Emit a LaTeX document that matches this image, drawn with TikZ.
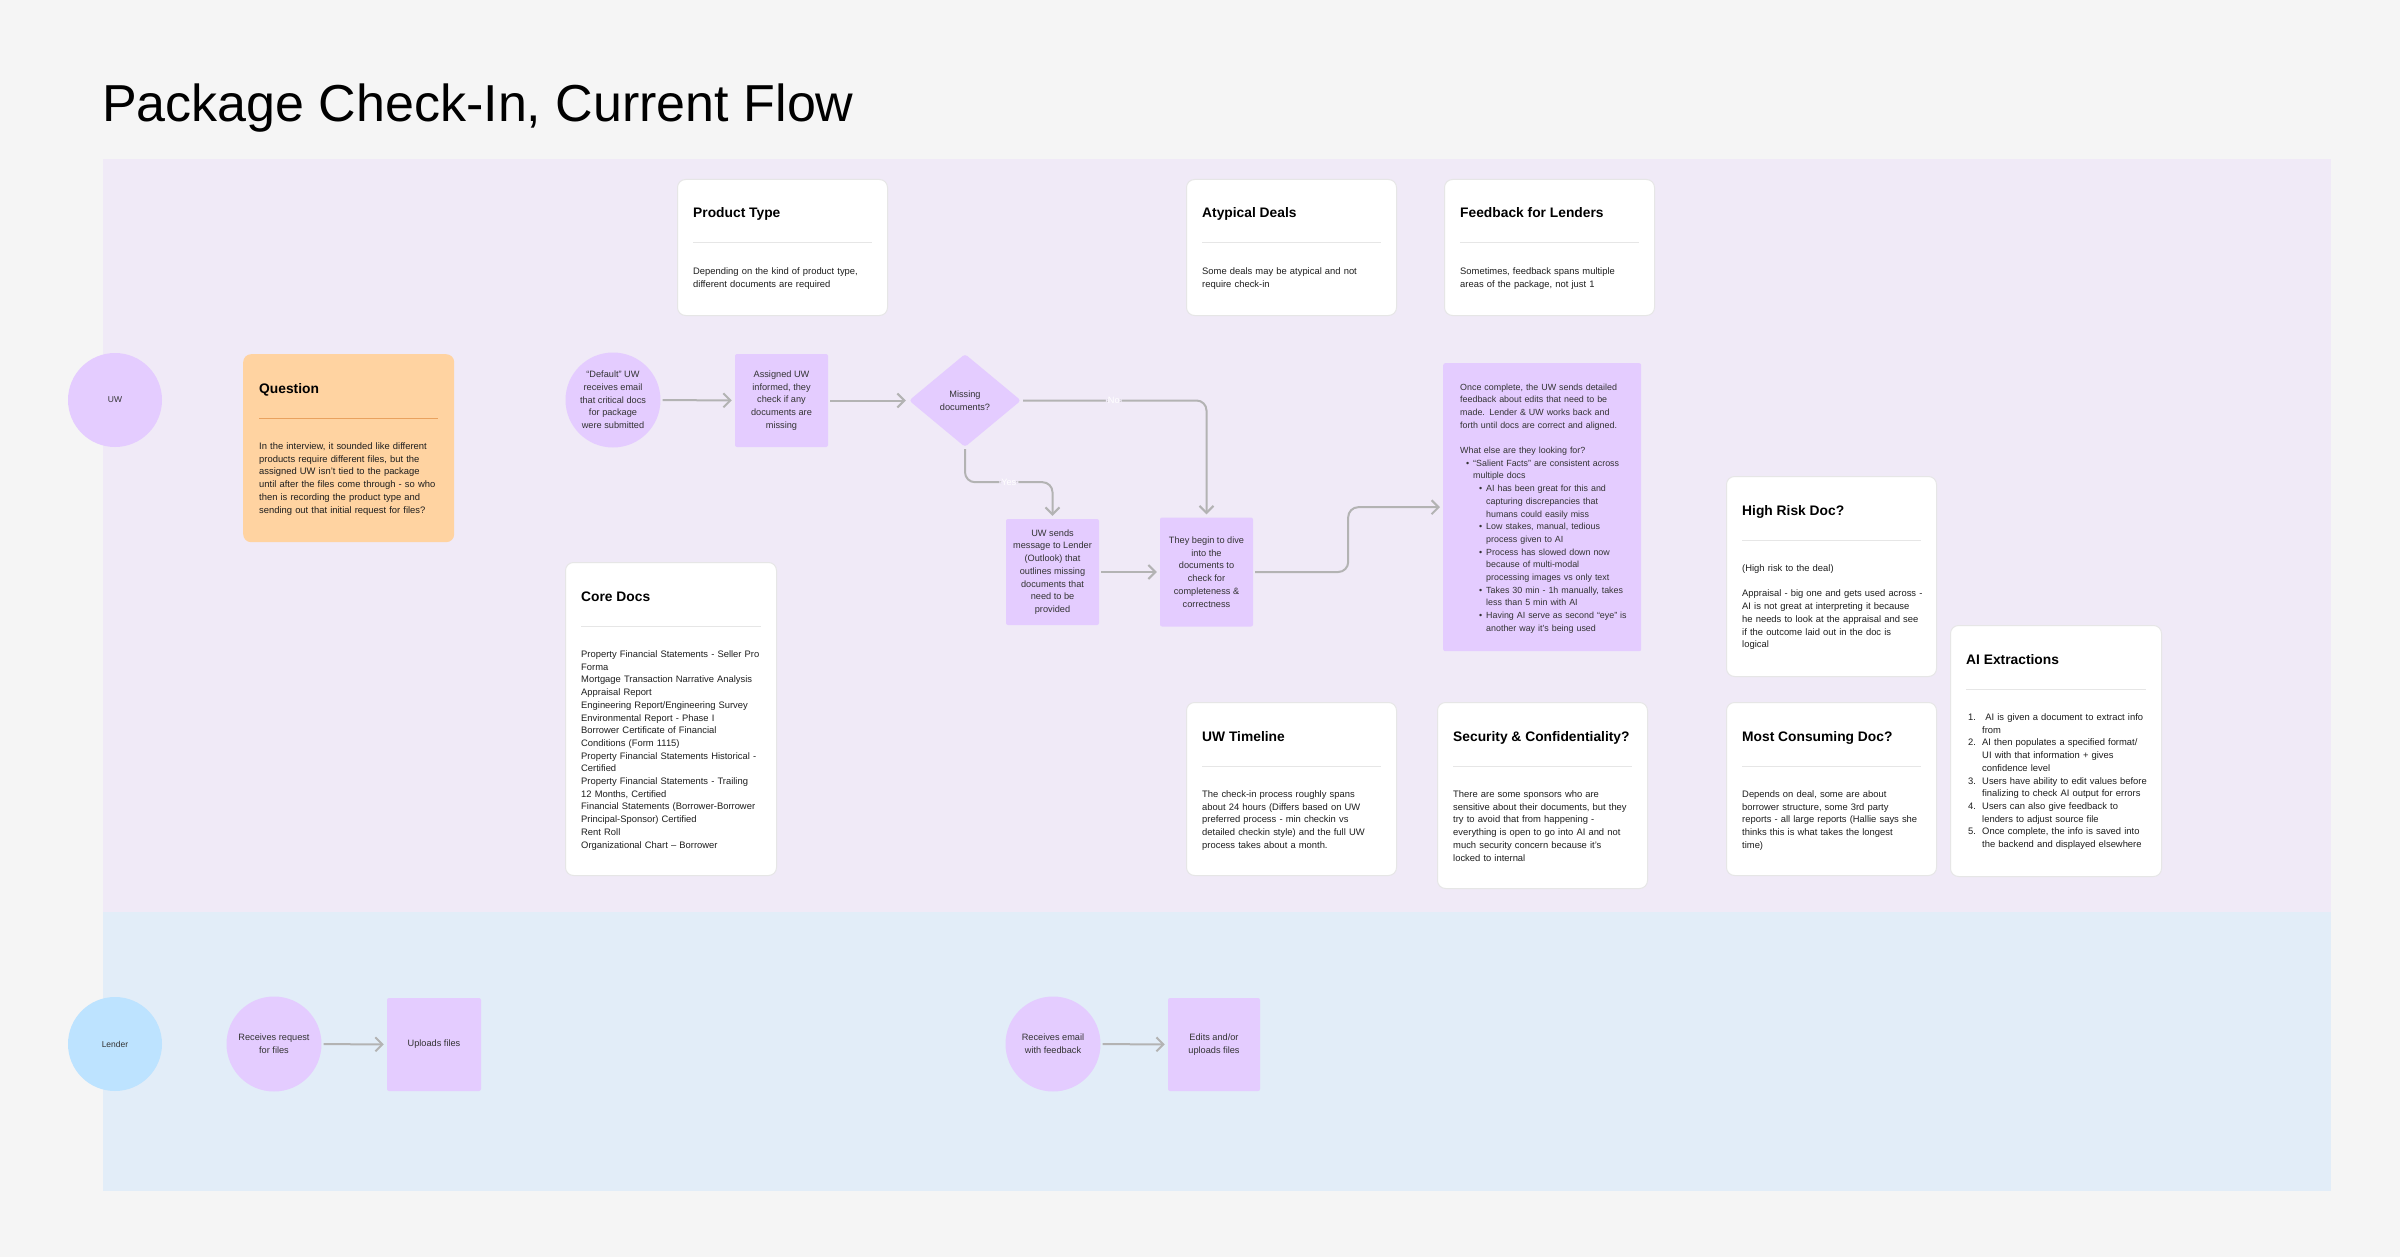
\documentclass[tikz,border=0pt]{standalone}
\usepackage{fontspec}
\setmainfont{Liberation Sans}
\usetikzlibrary{arrows.meta, positioning, shapes.geometric, calc}

\definecolor{pagebg}{HTML}{F5F5F5}
\definecolor{uwlane}{HTML}{F0EAF7}
\definecolor{lenderlane}{HTML}{E2EDF8}
\definecolor{sticky}{HTML}{E4CCFF}
\definecolor{lenderblue}{HTML}{BDE3FF}
\definecolor{peach}{HTML}{FFD3A1}
\definecolor{peachline}{HTML}{E9A25F}
\definecolor{cardline}{HTML}{E6E6E6}
\definecolor{flowgray}{HTML}{B3B3B3}
\definecolor{inktext}{HTML}{1E1E1E}
\definecolor{stickytext}{HTML}{333333}

% card: style, name, x, y, width, height, title, body
\newcommand{\infocard}[8]{%
  \node[#1, minimum width=#5pt, minimum height=#6pt] (#2) at (#3,#4) {};
  \node[cardtitle] (#2-title) at ($(#2.north west)+(16,39)$) {#7};
  \draw[#1 rule] ($(#2.north west)+(16,64)$) -- ($(#2.north east)+(-16,64)$);
  \node[cardbody] (#2-body) at ($(#2.north west)+(16,95.5)$) {#8};
}
\newcommand{\itemone}{\hspace*{6pt}\makebox[7pt][l]{\textbullet}}
\newcommand{\hangone}{\hspace*{13pt}}
\newcommand{\itemtwo}{\hspace*{19pt}\makebox[7pt][l]{\textbullet}}
\newcommand{\hangtwo}{\hspace*{26pt}}
\newcommand{\stepno}[1]{\hspace*{2pt}\makebox[14pt][l]{#1}}
\newcommand{\hangno}{\hspace*{16pt}}

\begin{document}
\begin{tikzpicture}[
    x=1pt, y=-1pt,
    pagetitle/.style={anchor=base west, inner sep=0, text=black,
                      font=\fontsize{52}{60}\selectfont},
    card/.style={rectangle, rounded corners=8pt, draw=cardline, fill=white,
                 line width=1pt, anchor=north west, inner sep=0},
    card rule/.style={draw=cardline, line width=1pt},
    qcard/.style={rectangle, rounded corners=8pt, fill=peach,
                  anchor=north west, inner sep=0},
    qcard rule/.style={draw=peachline, line width=1pt},
    cardtitle/.style={anchor=base west, inner sep=0, text=black,
                      font=\fontsize{13.8}{16}\selectfont\bfseries},
    cardbody/.style={anchor=base west, inner sep=0, text width=200pt, align=left,
                     text=inktext, font=\fontsize{9.4}{12.7}\selectfont},
    lanecircle/.style={circle, minimum size=94pt, inner sep=0, text=stickytext,
                       font=\fontsize{8.5}{11}\selectfont},
    flowcircle/.style={circle, fill=sticky, minimum size=95pt, inner sep=0,
                       align=center, text=stickytext, font=\fontsize{9.2}{12.7}\selectfont},
    flowbox/.style={rectangle, fill=sticky, rounded corners=2pt, inner sep=0,
                    align=center, text=stickytext, font=\fontsize{9.2}{12.7}\selectfont},
    flowdiamond/.style={diamond, fill=sticky, rounded corners=3pt, minimum width=112pt,
                        minimum height=93pt, inner sep=0, align=center, text=stickytext,
                        font=\fontsize{9.2}{12.7}\selectfont},
    notebox/.style={rectangle, fill=sticky, rounded corners=2pt, anchor=north west,
                    inner sep=0, minimum width=198pt, minimum height=288pt},
    notetext/.style={anchor=base west, inner sep=0, text width=176pt, align=left,
                     text=stickytext, font=\fontsize{8.9}{12.7}\selectfont},
    flow/.style={draw=flowgray, line width=2pt, -{Straight Barb[length=7pt, width=14pt]},
                 shorten >=3pt, shorten <=2pt},
    flowlabel/.style={fill=uwlane, text=white, inner sep=2pt,
                      font=\fontsize{9.2}{11}\selectfont}
  ]

  % page and lanes
  \useasboundingbox (0,0) rectangle (2400,1257);
  \fill[pagebg] (0,0) rectangle (2400,1257);
  \fill[uwlane] (102.5,159) rectangle (2331,912);
  \fill[lenderlane] (102.5,912) rectangle (2331,1191);

  \node[pagetitle] (title) at (102,122) {Package Check-In, Current Flow};

  \node[lanecircle, fill=sticky] (uw) at (115,400) {UW};
  \node[lanecircle, fill=lenderblue] (lender) at (115,1044) {Lender};

  % notes
  \infocard{qcard}{question}{243}{354}{211}{188}{Question}{In the interview, it sounded like different\\
    products require different files, but the\\
    assigned UW isn't tied to the package\\
    until after the files come through - so who\\
    then is recording the product type and\\
    sending out that initial request for files?}
  \infocard{card}{product}{677}{179}{210}{136}{Product Type}{Depending on the kind of product type,\\
    different documents are required}
  \infocard{card}{atypical}{1186}{179}{210}{136}{Atypical Deals}{Some deals may be atypical and not\\
    require check-in}
  \infocard{card}{feedback}{1444}{179}{210}{136}{Feedback for Lenders}{Sometimes, feedback spans multiple\\
    areas of the package, not just 1}
  \infocard{card}{coredocs}{565}{562}{211}{313}{Core Docs}{Property Financial Statements - Seller Pro\\
    Forma\\
    Mortgage Transaction Narrative Analysis\\
    Appraisal Report\\
    Engineering Report/Engineering Survey\\
    Environmental Report - Phase I\\
    Borrower Certificate of Financial\\
    Conditions (Form 1115)\\
    Property Financial Statements Historical -\\
    Certified\\
    Property Financial Statements - Trailing\\
    12 Months, Certified\\
    Financial Statements (Borrower-Borrower\\
    Principal-Sponsor) Certified\\
    Rent Roll\\
    Organizational Chart -- Borrower}
  \infocard{card}{timeline}{1186}{702}{210}{173}{UW Timeline}{The check-in process roughly spans\\
    about 24 hours (Differs based on UW\\
    preferred process - min checkin vs\\
    detailed checkin style) and the full UW\\
    process takes about a month.}
  \infocard{card}{security}{1437}{702}{210}{186}{Security \& Confidentiality?}{There are some sponsors who are\\
    sensitive about their documents, but they\\
    try to avoid that from happening -\\
    everything is open to go into AI and not\\
    much security concern because it's\\
    locked to internal}
  \infocard{card}{highrisk}{1726}{476}{210}{200}{High Risk Doc?}{(High risk to the deal)\\[12.7pt]
    Appraisal - big one and gets used across -\\
    AI is not great at interpreting it because\\
    he needs to look at the appraisal and see\\
    if the outcome laid out in the doc is\\
    logical}
  \infocard{card}{consuming}{1726}{702}{210}{173}{Most Consuming Doc?}{Depends on deal, some are about\\
    borrower structure, some 3rd party\\
    reports - all large reports (Hallie says she\\
    thinks this is what takes the longest\\
    time)}
  \infocard{card}{extract}{1950}{625}{211}{251}{AI Extractions}{\stepno{1.}\ AI is given a document to extract info\\
    \hangno from\\
    \stepno{2.}AI then populates a specified format/\\
    \hangno UI with that information + gives\\
    \hangno confidence level\\
    \stepno{3.}Users have ability to edit values before\\
    \hangno finalizing to check AI output for errors\\
    \stepno{4.}Users can also give feedback to\\
    \hangno lenders to adjust source file\\
    \stepno{5.}Once complete, the info is saved into\\
    \hangno the backend and displayed elsewhere}

  % UW flow
  \node[flowcircle] (dflt) at (613,400) {``Default'' UW\\receives email\\that critical docs\\for package\\were submitted};
  \node[flowbox, minimum width=93pt, minimum height=93pt] (assign) at (781.5,400.5)
       {Assigned UW\\informed, they\\check if any\\documents are\\missing};
  \node[flowdiamond] (missing) at (965,400.5) {Missing\\documents?};
  \node[flowbox, minimum width=93pt, minimum height=106pt] (sends) at (1052.5,572)
       {UW sends\\message to Lender\\(Outlook) that\\outlines missing\\documents that\\need to be\\provided};
  \node[flowbox, minimum width=93pt, minimum height=109pt] (dive) at (1206.5,572)
       {They begin to dive\\into the\\documents to\\check for\\completeness \&\\correctness};
  \node[notebox] (note) at (1443,363) {};
  \node[notetext] (note-text) at ($(note.north west)+(17,27)$) {Once complete, the UW sends detailed\\
    feedback about edits that need to be\\
    made. Lender \& UW works back and\\
    forth until docs are correct and aligned.\\[12.7pt]
    What else are they looking for?\\
    \itemone``Salient Facts'' are consistent across\\
    \hangone multiple docs\\
    \itemtwo AI has been great for this and\\
    \hangtwo capturing discrepancies that\\
    \hangtwo humans could easily miss\\
    \itemtwo Low stakes, manual, tedious\\
    \hangtwo process given to AI\\
    \itemtwo Process has slowed down now\\
    \hangtwo because of multi-modal\\
    \hangtwo processing images vs only text\\
    \itemtwo Takes 30 min - 1h manually, takes\\
    \hangtwo less than 5 min with AI\\
    \itemtwo Having AI serve as second ``eye'' is\\
    \hangtwo another way it's being used};

  \draw[flow] (dflt) -- (assign);
  \draw[flow] (assign) -- (missing);
  \draw[flow, rounded corners=10pt] (missing.east) -- node[flowlabel]{No} (missing.east -| dive.north) -- (dive.north);
  \draw[flow, rounded corners=10pt] (missing.south) -- ++(0,35) -| node[flowlabel, pos=0.25]{Yes} (sends.north);
  \draw[flow] (sends) -- (dive);
  \draw[flow, rounded corners=10pt] (dive.east) -- ++(95,0) |- (note.west);

  % Lender flow
  \node[flowcircle] (request) at (274,1044) {Receives request\\for files};
  \node[flowbox, minimum width=94pt, minimum height=93pt] (upload) at (434,1044.5) {Uploads files};
  \node[flowcircle] (email) at (1053,1044) {Receives email\\with feedback};
  \node[flowbox, minimum width=92pt, minimum height=93pt] (edits) at (1214,1044.5) {Edits and/or\\uploads files};

  \draw[flow] (request) -- (upload);
  \draw[flow] (email) -- (edits);

\end{tikzpicture}
\end{document}
